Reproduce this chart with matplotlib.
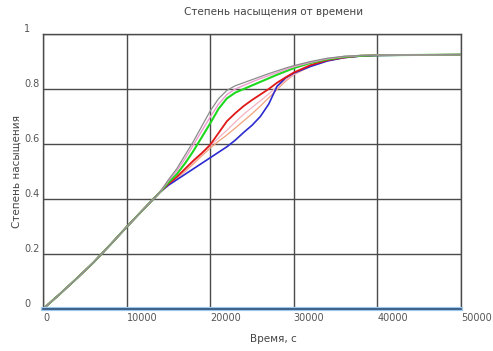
import matplotlib.pyplot as plt
import numpy as np

plt.rcParams['font.family'] = ['DejaVu Sans']

# общий начальный участок (до расхождения кривых)
t_common = [0, 2000, 4000, 6000, 8000, 10000, 12000, 14000]
s_common = [0, 0.054, 0.110, 0.168, 0.232, 0.298, 0.362, 0.425]

# участок после 14000 с для каждой кривой
t_tail = [15000, 16000, 17000, 18000, 19000, 20000, 21000, 22000, 23000, 24000,
          25000, 26000, 27000, 28000, 29000, 30000, 32000, 34000, 36000, 38000,
          40000, 45000, 50000]

s_gray = [0.470, 0.510, 0.560, 0.610, 0.665, 0.720, 0.765, 0.795, 0.812, 0.823,
          0.834, 0.845, 0.856, 0.866, 0.876, 0.885, 0.900, 0.912, 0.919, 0.922,
          0.923, 0.924, 0.925]
s_pink = [0.466, 0.502, 0.547, 0.597, 0.648, 0.698, 0.745, 0.780, 0.800, 0.813,
          0.826, 0.838, 0.849, 0.860, 0.871, 0.881, 0.897, 0.910, 0.918, 0.922,
          0.923, 0.924, 0.925]
s_green = [0.460, 0.490, 0.530, 0.575, 0.625, 0.675, 0.728, 0.766, 0.787, 0.800,
           0.813, 0.826, 0.839, 0.852, 0.864, 0.876, 0.895, 0.908, 0.917, 0.921,
           0.923, 0.924, 0.925]
s_red = [0.455, 0.480, 0.510, 0.540, 0.567, 0.597, 0.640, 0.683, 0.712, 0.738,
         0.760, 0.780, 0.800, 0.823, 0.842, 0.860, 0.887, 0.905, 0.915, 0.921,
         0.923, 0.924, 0.925]
s_rose = [0.453, 0.477, 0.505, 0.535, 0.563, 0.593, 0.622, 0.650, 0.680, 0.708,
          0.733, 0.757, 0.782, 0.808, 0.832, 0.853, 0.884, 0.903, 0.914, 0.920,
          0.923, 0.924, 0.925]
s_salmon = [0.452, 0.474, 0.500, 0.528, 0.557, 0.585, 0.610, 0.633, 0.658, 0.684,
            0.710, 0.738, 0.768, 0.798, 0.828, 0.852, 0.883, 0.903, 0.914, 0.920,
            0.923, 0.924, 0.925]
s_blue = [0.450, 0.470, 0.490, 0.510, 0.530, 0.550, 0.570, 0.590, 0.614, 0.642,
          0.668, 0.700, 0.745, 0.810, 0.840, 0.858, 0.882, 0.902, 0.914, 0.920,
          0.922, 0.924, 0.925]

# нулевая кривая вдоль оси времени
t_zero = [0, 50000]
s_zero = [0, 0]

curves = [
    (s_salmon, '#f2a27c', 0.9),
    (s_rose, '#f5b4c4', 0.9),
    (s_blue, '#2b2bd0', 1.2),
    (s_red, '#e01818', 1.3),
    (s_green, '#1ed81e', 1.5),
    (s_pink, '#ee9ad0', 1.0),
    (s_gray, '#8c8c8c', 0.9),
]

fig = plt.figure(figsize=(4.93, 3.51), dpi=100)
ax = fig.add_axes([0.0872, 0.1197, 0.8478, 0.7833])

grid_c = '#4a4a4a'
txt_c = '#555555'

for y, c, lw in curves:
    ax.plot(t_common + t_tail, s_common + y, color=c, lw=lw, zorder=3)

ax.plot(t_zero, s_zero, color='#9cc8ec', lw=3, zorder=3, clip_on=False)
ax.plot(t_zero, s_zero, color='#2e4f78', lw=1.2, zorder=4, clip_on=False)

ax.set_xlim(0, 50000)
ax.set_ylim(0, 1)
ax.set_xticks([0, 10000, 20000, 30000, 40000, 50000])
ax.set_xticklabels(['0', '10000', '20000', '30000', '40000', '50000'])
ax.set_yticks([0, 0.2, 0.4, 0.6, 0.8, 1])
ax.set_yticklabels(['0', '0.2', '0.4', '0.6', '0.8', '1'])

ax.grid(True, color=grid_c, lw=1.0, zorder=1)
for sp in ax.spines.values():
    sp.set_color(grid_c)
    sp.set_linewidth(1.0)

ax.tick_params(axis='both', length=0, labelsize=7, colors=txt_c)
ax.tick_params(axis='x', pad=3)
ax.tick_params(axis='y', pad=13.5)
for lab in ax.get_xticklabels():
    lab.set_horizontalalignment('left')
for lab in ax.get_yticklabels():
    lab.set_horizontalalignment('left')
    lab.set_verticalalignment('bottom')

# заголовок и подпись оси X смещены вправо, как в исходном отчёте
fig.text(274 / 493, 1 - 12 / 351, 'Степень насыщения от времени', fontsize=7.5,
         color='#444444', ha='center', va='center')
fig.text(273 / 493, 1 - 339 / 351, 'Время, с', fontsize=7.5,
         color='#444444', ha='center', va='center')
ax.set_ylabel('Степень насыщения', fontsize=7.5, color='#444444', labelpad=2)

fig.savefig('out.png', dpi=100)
